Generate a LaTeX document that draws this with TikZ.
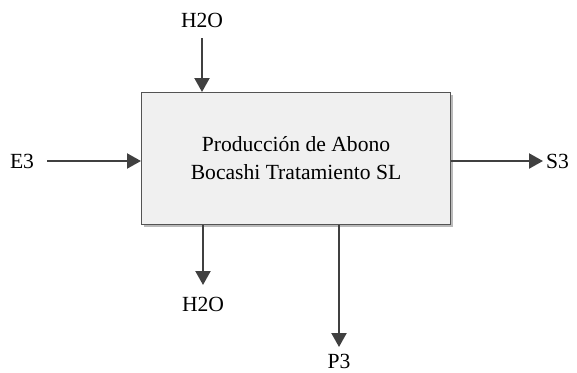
\documentclass[tikz,border=0pt]{standalone}
\usepackage{fontspec}
\setmainfont{Liberation Serif}
\usetikzlibrary{arrows.meta,shadows}
\definecolor{linec}{HTML}{404040}
\definecolor{boxfill}{HTML}{F0F0F0}
\begin{document}
\begin{tikzpicture}[x=1pt,y=-1pt,
  every node/.style={font=\fontsize{21.6}{26}\selectfont, inner sep=0pt},
  flow/.style={draw=linec, line width=2.2pt, -{Triangle[length=14pt,width=15pt]}},
  procbox/.style={draw=linec!90, line width=1pt, fill=boxfill,
    drop shadow={shadow xshift=2pt, shadow yshift=-2pt, fill=black!45, opacity=0.6},
    minimum width=309pt, minimum height=132pt, anchor=north west, align=center}]
\useasboundingbox (0,0) rectangle (577,372);
\node[procbox] (p) at (141,92) {Producción de Abono\\[2pt]Bocashi Tratamiento SL};
\node (h2oin) at (202,20) {H2O};
\coordinate (h2oinS) at (202,38);
\node (e3) at (22,161) {E3};
\coordinate (e3S) at (47,161);
\node[anchor=west] (s3) at (546,161) {S3};
\coordinate (s3E) at (543,161);
\node (h2oout) at (203,304) {H2O};
\coordinate (h2ooutE) at (203,285);
\node (p3) at (339,361) {P3};
\coordinate (p3E) at (339,347);
\draw[flow] (h2oinS) -- (h2oinS |- p.north);
\draw[flow] (e3S) -- (p.west |- e3S);
\draw[flow] (p.east |- s3E) -- (s3E);
\draw[flow] (p.south -| h2ooutE) -- (h2ooutE);
\draw[flow] (p.south -| p3E) -- (p3E);
\end{tikzpicture}
\end{document}
